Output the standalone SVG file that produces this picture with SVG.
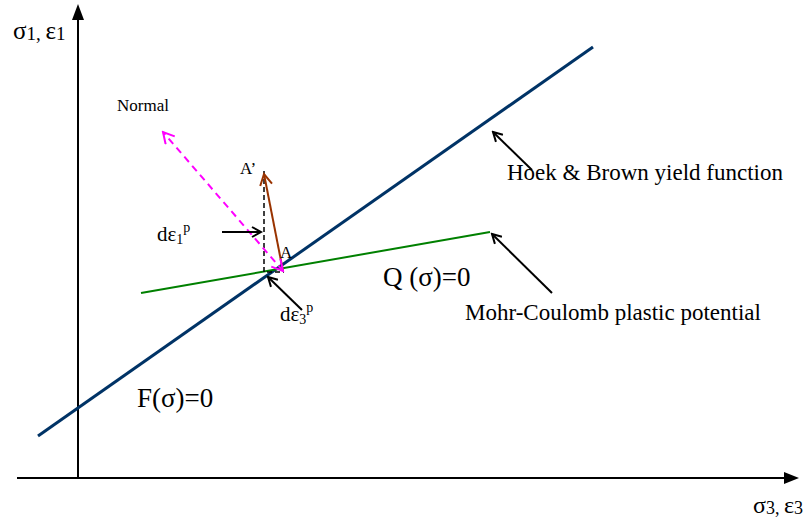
<svg xmlns="http://www.w3.org/2000/svg" width="809" height="523" viewBox="0 0 809 523">
<style>
text{font-family:"Liberation Serif","Times New Roman",serif;fill:#000}
.ax{stroke:#000;stroke-width:2;fill:none}
.blk{stroke:#000;stroke-width:2;fill:none}
</style>
<defs>
<marker id="open" markerWidth="12" markerHeight="12" refX="10" refY="6" orient="auto" markerUnits="userSpaceOnUse">
<path d="M1,1 L10,6 L1,11" fill="none" stroke="context-stroke" stroke-width="2"/>
</marker>
<marker id="openStart" markerWidth="14" markerHeight="14" refX="12" refY="7" orient="auto-start-reverse" markerUnits="userSpaceOnUse">
<path d="M1,1 L12,7 L1,13" fill="none" stroke="context-stroke" stroke-width="2"/>
</marker>
</defs>
<rect width="809" height="523" fill="#fff"/>
<g id="axes">
<line class="ax" x1="78" y1="478" x2="78" y2="18"/>
<path d="M78,4 L72,20 L84,20 Z" fill="#000"/>
<line class="ax" x1="17" y1="478" x2="786" y2="478"/>
<path d="M799,478 L784,472 L784,484 Z" fill="#000"/>
</g>
<g id="yield-line">
<line x1="38" y1="436" x2="593" y2="47" stroke="#003366" stroke-width="3"/>
</g>
<g id="potential-line">
<line x1="141" y1="293" x2="490" y2="232" stroke="#008000" stroke-width="2"/>
</g>
<g id="connectors">
<path d="M264,171 L264,272 L284,272" fill="none" stroke="#000" stroke-width="1.5" stroke-dasharray="5,3"/>
<line x1="283" y1="271" x2="264" y2="174" stroke="#993300" stroke-width="2" marker-end="url(#openStart)"/>
<line x1="283" y1="271" x2="163" y2="132" stroke="#FF00FF" stroke-width="2" stroke-dasharray="7,5" marker-start="url(#openStart)" marker-end="url(#openStart)"/>
<line class="blk" x1="222" y1="232" x2="261" y2="232" marker-end="url(#open)"/>
<line class="blk" x1="302" y1="310" x2="268" y2="277" marker-end="url(#open)"/>
<line class="blk" x1="532" y1="170" x2="493" y2="132" marker-end="url(#open)"/>
<line class="blk" x1="552" y1="293" x2="492" y2="234" marker-end="url(#open)"/>
</g>
<g id="labels">
<text x="13" y="39" font-size="25">σ<tspan font-size="19" dy="1">1</tspan><tspan font-size="19" dy="0">, </tspan><tspan font-size="25" dy="-1">ε</tspan><tspan font-size="19" dy="1">1</tspan></text>
<text x="753" y="513" font-size="24">σ<tspan font-size="18" dy="1">3</tspan><tspan font-size="18">, </tspan><tspan font-size="24" dy="-1">ε</tspan><tspan font-size="18" dy="1">3</tspan></text>
<text x="117" y="111" font-size="17">Normal</text>
<text x="240" y="174" font-size="17">A’</text>
<text x="280" y="258" font-size="17">A</text>
<text x="157" y="241" font-size="21">dε<tspan font-size="14" dy="3">1</tspan><tspan font-size="14" dy="-12">p</tspan></text>
<text x="280" y="321" font-size="21">dε<tspan font-size="14" dy="3">3</tspan><tspan font-size="14" dy="-12">p</tspan></text>
<text x="507" y="180" font-size="23">Hoek &amp; Brown yield function</text>
<text x="465" y="320" font-size="23">Mohr-Coulomb plastic potential</text>
<text x="383" y="286" font-size="27">Q (σ)=0</text>
<text x="137" y="407" font-size="27">F(σ)=0</text>
</g>
</svg>
